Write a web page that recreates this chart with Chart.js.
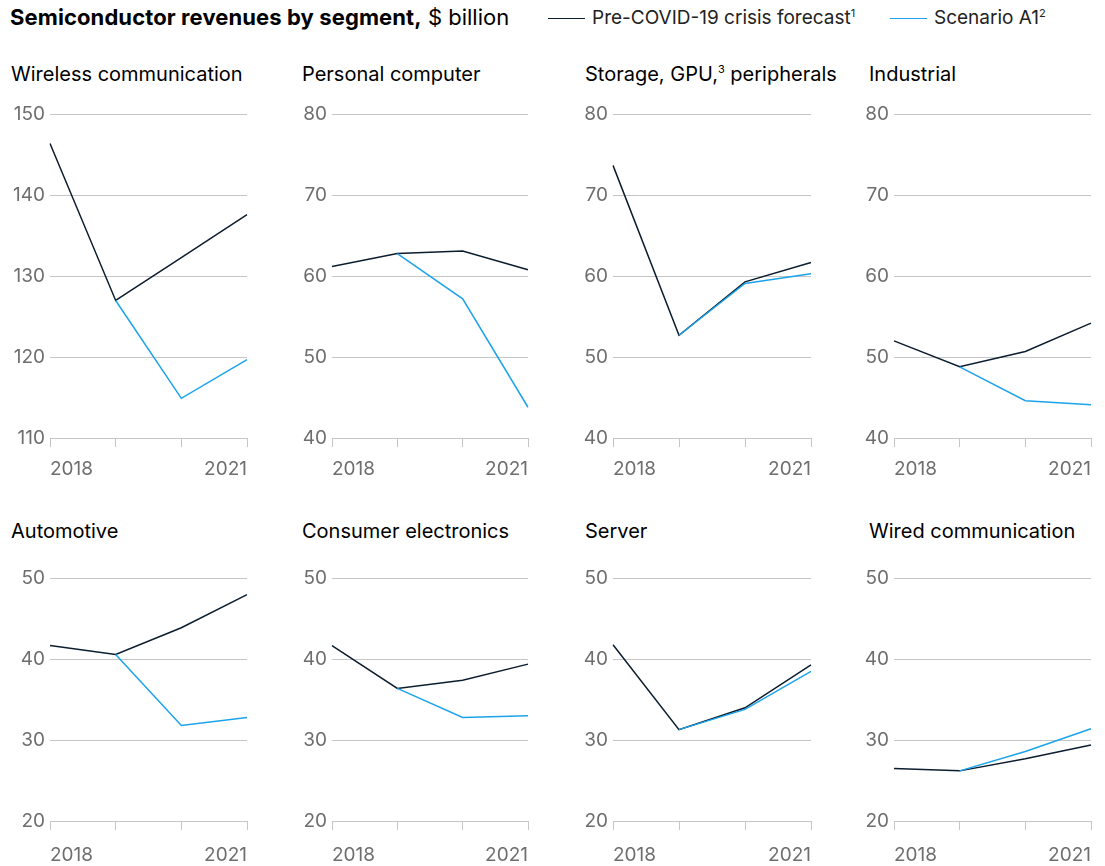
<!DOCTYPE html>
<html>
<head>
<meta charset="utf-8">
<script src="https://cdn.jsdelivr.net/npm/chart.js@4/dist/chart.umd.min.js"></script>
<style>
  body { margin: 0; background: #fff; font-family: Inter, "Liberation Sans", sans-serif; }
  #page { position: relative; width: 1105px; height: 866px; overflow: hidden; }
  .header { position: absolute; left: 10px; top: 4px; font-size: 22px; color: #000; white-space: nowrap; }
  .header b { font-weight: 700; letter-spacing: 0.1px; }
  .legend { position: absolute; top: 6px; font-size: 19px; color: #222; white-space: nowrap; }
  .legend .swatch { display: inline-block; width: 37px; height: 0; border-top: 1.5px solid; vertical-align: middle; margin-right: 7px; position: relative; top: -1px; }
  .legend sup, .ptitle sup { font-size: 11px; }
  .ptitle { position: absolute; font-size: 20px; color: #000; white-space: nowrap; }
  .panel { position: absolute; }
</style>
</head>
<body>
<div id="page">
  <div class="header"><b>Semiconductor revenues by segment,</b> $ billion</div>
  <div class="legend" style="left:548px"><span class="swatch" style="border-color:#0b1d2e"></span>Pre-COVID-19 crisis forecast<sup>1</sup></div>
  <div class="legend" style="left:890px"><span class="swatch" style="border-color:#1ba3ec"></span>Scenario A1<sup>2</sup></div>
</div>
<script>
// chart data
const years = ["2018", "2019", "2020", "2021"];
const segments = [
  "Wireless communication", "Personal computer", "Storage, GPU,<sup>3</sup> peripherals", "Industrial",
  "Automotive", "Consumer electronics", "Server", "Wired communication"
];
const preCovid = [
  [146.4, 127.0, 132.3, 137.6],
  [61.2, 62.8, 63.1, 60.8],
  [73.7, 52.7, 59.3, 61.7],
  [52.0, 48.8, 50.7, 54.2],
  [41.7, 40.6, 43.9, 48.0],
  [41.7, 36.4, 37.4, 39.4],
  [41.8, 31.3, 34.0, 39.3],
  [26.5, 26.2, 27.7, 29.4]
];
const scenarioA1 = [
  [null, 127.0, 114.9, 119.7],
  [null, 62.8, 57.2, 43.8],
  [null, 52.7, 59.1, 60.3],
  [null, 48.8, 44.6, 44.1],
  [null, 40.6, 31.8, 32.8],
  [null, 36.4, 32.8, 33.0],
  [null, 31.3, 33.8, 38.5],
  [null, 26.2, 28.6, 31.4]
];
const yMin = [110, 40, 40, 40, 20, 20, 20, 20];
const yMax = [150, 80, 80, 80, 50, 50, 50, 50];

// layout (pixels)
const colLeft = [11, 302, 585, 869];
const plotLeft = [50, 332, 613, 894];
const plotRight = [247, 528, 811, 1091];
const rowTitleY = [62, 519];
const rowPlotTop = [112, 576];
const rowPlotBottom = [439, 822];
const rowLabelPad = [11, 14];

const darkColor = "#0b1d2e";
const blueColor = "#1ba3ec";
const gridColor = "#c6c6c6";
const tickColor = "#6e6e6e";
const page = document.getElementById("page");

segments.forEach((name, i) => {
  const col = i % 4, row = Math.floor(i / 4);

  const t = document.createElement("div");
  t.className = "ptitle";
  t.style.left = colLeft[col] + "px";
  t.style.top = rowTitleY[row] + "px";
  t.innerHTML = name;
  page.appendChild(t);

  const padTop = 12, yAxisW = 45, labelPad = rowLabelPad[row];
  const xAxisH = 9 + labelPad + 26;
  const left = plotLeft[col] - yAxisW;
  // x scale keeps ticks.padding free on the right, so add it to the width
  const w = plotRight[col] - left + labelPad;
  const h = rowPlotBottom[row] - rowPlotTop[row] + padTop + xAxisH + 1;
  const box = document.createElement("div");
  box.className = "panel";
  box.style.left = left + "px";
  box.style.top = (rowPlotTop[row] - padTop - 2) + "px";
  box.style.width = w + "px";
  box.style.height = h + "px";
  const canvas = document.createElement("canvas");
  box.appendChild(canvas);
  page.appendChild(box);

  new Chart(canvas, {
    type: "line",
    data: {
      labels: years,
      datasets: [
        { label: "Scenario A1", data: scenarioA1[i], borderColor: blueColor, borderWidth: 1.5, pointRadius: 0, tension: 0 },
        { label: "Pre-COVID-19 crisis forecast", data: preCovid[i], borderColor: darkColor, borderWidth: 1.5, pointRadius: 0, tension: 0 }
      ]
    },
    options: {
      responsive: true,
      maintainAspectRatio: false,
      animation: false,
      layout: { padding: { top: padTop, right: 0, left: 0, bottom: 0 } },
      plugins: { legend: { display: false }, tooltip: { enabled: false } },
      scales: {
        x: {
          offset: false,
          grid: { drawOnChartArea: false, drawTicks: true, tickLength: 9, color: gridColor },
          border: { display: true, color: gridColor },
          afterFit: (s) => { s.height = xAxisH; },
          ticks: {
            autoSkip: false,
            maxRotation: 0,
            align: "inner",
            padding: labelPad,
            color: tickColor,
            font: { family: "Inter", size: 19 },
            callback: (v, idx) => (idx === 0 || idx === years.length - 1) ? years[idx] : ""
          }
        },
        y: {
          min: yMin[i],
          max: yMax[i],
          grid: { drawTicks: false, color: gridColor },
          border: { display: false },
          afterFit: (s) => { s.width = yAxisW; },
          ticks: {
            stepSize: 10,
            padding: 5,
            color: tickColor,
            font: { family: "Inter", size: 19 }
          }
        }
      }
    }
  });
});
</script>
</body>
</html>
